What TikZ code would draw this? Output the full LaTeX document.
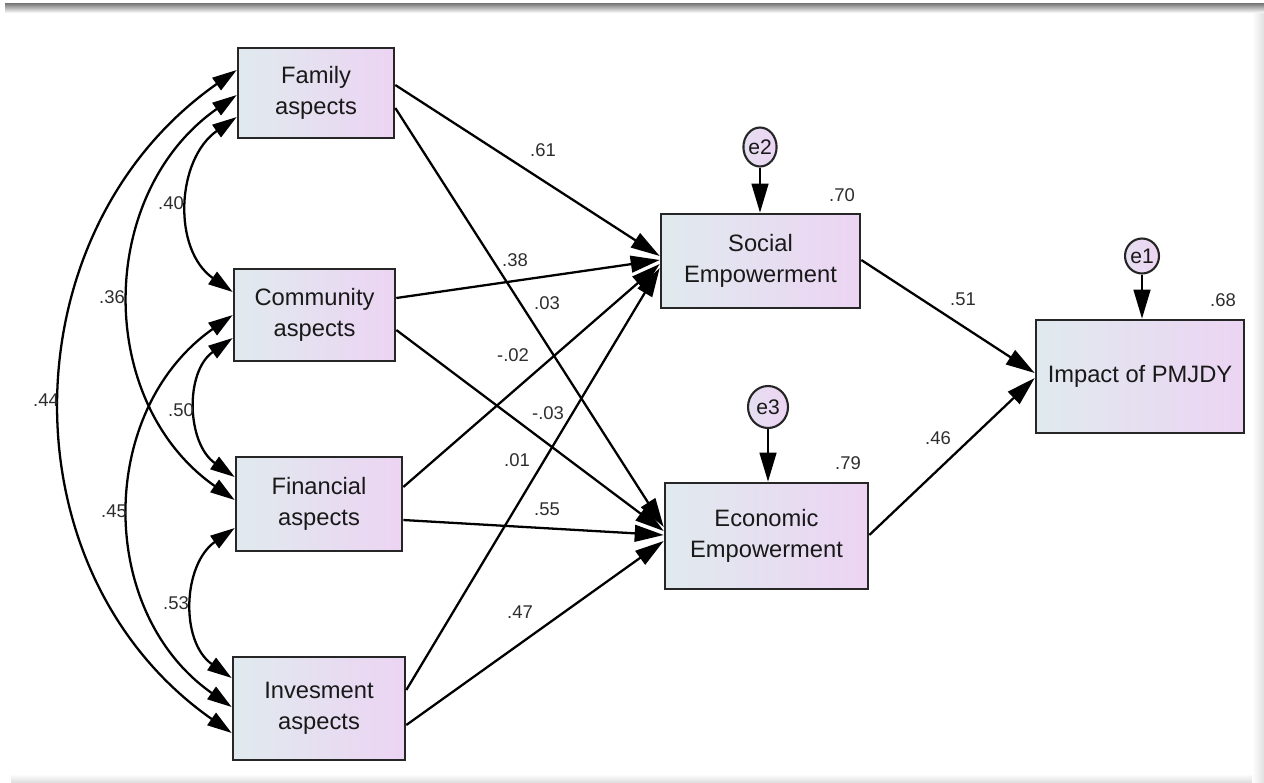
\documentclass[tikz,border=0pt]{standalone}
\usepackage{fontspec}
\setmainfont{Liberation Sans}
\usetikzlibrary{arrows.meta,calc,shapes.geometric}
\definecolor{boxL}{RGB}{224,234,238}
\definecolor{boxR}{RGB}{236,212,243}
\definecolor{txt}{RGB}{25,25,25}
\definecolor{lbl}{RGB}{45,45,45}
\begin{document}
\begin{tikzpicture}[x=0.02cm,y=0.02cm,
  varbox/.style={draw=black!85, line width=1.5pt, left color=boxL, right color=boxR,
    align=center, font=\fontsize{13.5}{17.5}\selectfont, text=txt, inner sep=0pt},
  errc/.style={ellipse, draw=black!85, line width=1.2pt, left color=boxL!50!boxR, right color=boxR,
    font=\fontsize{12}{14}\selectfont, text=txt, inner sep=0pt},
  regarrow/.style={line width=1.3pt, -{Triangle[length=16.5pt,width=9.5pt]}},
  covarrow/.style={line width=1.3pt, {Triangle[length=14pt,width=8.5pt]}-{Triangle[length=14pt,width=8.5pt]}},
  covcurve/.style={out=215, in=145, looseness=1.08},
  coef/.style={font=\fontsize{10.5}{12}\selectfont, text=lbl, inner sep=1pt}]

\useasboundingbox (0,0) rectangle (1264,-782);
% frame shading
\shade[top color=black!55, bottom color=white] (5,-3) rectangle (1264,-13);
\shade[left color=white, right color=black!12] (1252,-13) rectangle (1264,-782);
\shade[top color=white, bottom color=black!12] (11,-774) rectangle (1252,-782);

% variables
\node[varbox, minimum width=3.12cm, minimum height=1.80cm] (fam) at (316,-93) {Family\\aspects};
\node[varbox, minimum width=3.22cm, minimum height=1.84cm] (com) at (314.5,-315) {Community\\aspects};
\node[varbox, minimum width=3.32cm, minimum height=1.88cm] (fin) at (319,-504) {Financial\\aspects};
\node[varbox, minimum width=3.44cm, minimum height=2.06cm] (inv) at (319,-708.5) {Invesment\\aspects};
\node[varbox, minimum width=3.98cm, minimum height=1.88cm] (soc) at (760.5,-261) {Social\\Empowerment};
\node[varbox, minimum width=4.06cm, minimum height=2.12cm] (eco) at (766.5,-536) {Economic\\Empowerment};
\node[varbox, minimum width=4.16cm, minimum height=2.26cm] (imp) at (1140,-376.5) {Impact of PMJDY};

% error terms
\node[errc, minimum width=0.62cm, minimum height=0.78cm] (e2) at (760,-147) {e2};
\node[errc, minimum width=0.80cm, minimum height=0.84cm] (e3) at (768,-407) {e3};
\node[errc, minimum width=0.68cm, minimum height=0.70cm] (e1) at (1142,-256) {e1};

\draw[regarrow] (e2.south) -- (e2.south |- soc.north);
\draw[regarrow] (e3.south) -- (e3.south |- eco.north);
\draw[regarrow] (e1.south) -- (e1.south |- imp.north);

% regression paths
\draw[regarrow] ($(fam.east)+(0,8)$)   -- ($(soc.west)+(0,5)$);
\draw[regarrow] ($(com.east)+(0,17)$)  -- ($(soc.west)+(0,1)$);
\draw[regarrow] ($(fin.east)+(0,17)$)  -- ($(soc.west)+(0,-3)$);
\draw[regarrow] ($(inv.east)+(0,18.5)$) -- ($(soc.west)+(0,-7)$);
\draw[regarrow] ($(fam.east)+(0,-15)$) -- ($(eco.west)+(0,9)$);
\draw[regarrow] ($(com.east)+(0,-15)$) -- ($(eco.west)+(0,5)$);
\draw[regarrow] ($(fin.east)+(0,-16)$) -- ($(eco.west)+(0,1)$);
\draw[regarrow] ($(inv.east)+(0,-16.5)$) -- ($(eco.west)+(0,-5)$);
\draw[regarrow] ($(soc.east)+(0,1)$) -- ($(imp.west)+(0,3.5)$);
\draw[regarrow] ($(eco.east)+(0,1)$) -- ($(imp.west)+(0,-1.5)$);

% covariances
\draw[covarrow] ($(fam.west)+(0,23)$)  to[covcurve] ($(inv.west)+(0,-24.5)$);
\draw[covarrow] ($(fam.west)+(0,-2)$)  to[covcurve] ($(fin.west)+(0,4)$);
\draw[covarrow] ($(fam.west)+(0,-24)$) to[covcurve] ($(com.west)+(0,23)$);
\draw[covarrow] ($(com.west)+(0,-23)$) to[covcurve] ($(fin.west)+(0,27)$);
\draw[covarrow] (com.west)             to[covcurve] ($(inv.west)+(0,1.5)$);
\draw[covarrow] ($(fin.west)+(0,-24)$) to[covcurve] ($(inv.west)+(0,30.5)$);

% coefficients
\node[coef] (c40) at (171,-203) {.40};
\node[coef] (c36) at (112,-297) {.36};
\node[coef] (c44) at (46,-400) {.44};
\node[coef] (c50) at (181,-410) {.50};
\node[coef] (c45) at (114,-511) {.45};
\node[coef] (c53) at (176,-603) {.53};
\node[coef] (c61) at (543,-150) {.61};
\node[coef] (c38) at (515,-260) {.38};
\node[coef] (c03) at (547,-303) {.03};
\node[coef] (cm02) at (513,-355) {-.02};
\node[coef] (cm03) at (548,-413) {-.03};
\node[coef] (c01) at (517,-460) {.01};
\node[coef] (c55) at (547,-509) {.55};
\node[coef] (c47) at (520,-612) {.47};
\node[coef] (c51) at (963,-299) {.51};
\node[coef] (c46) at (938,-438) {.46};
\node[coef] (r70) at (842,-195) {.70};
\node[coef] (r79) at (848,-463) {.79};
\node[coef] (r68) at (1223,-300) {.68};
\end{tikzpicture}
\end{document}
